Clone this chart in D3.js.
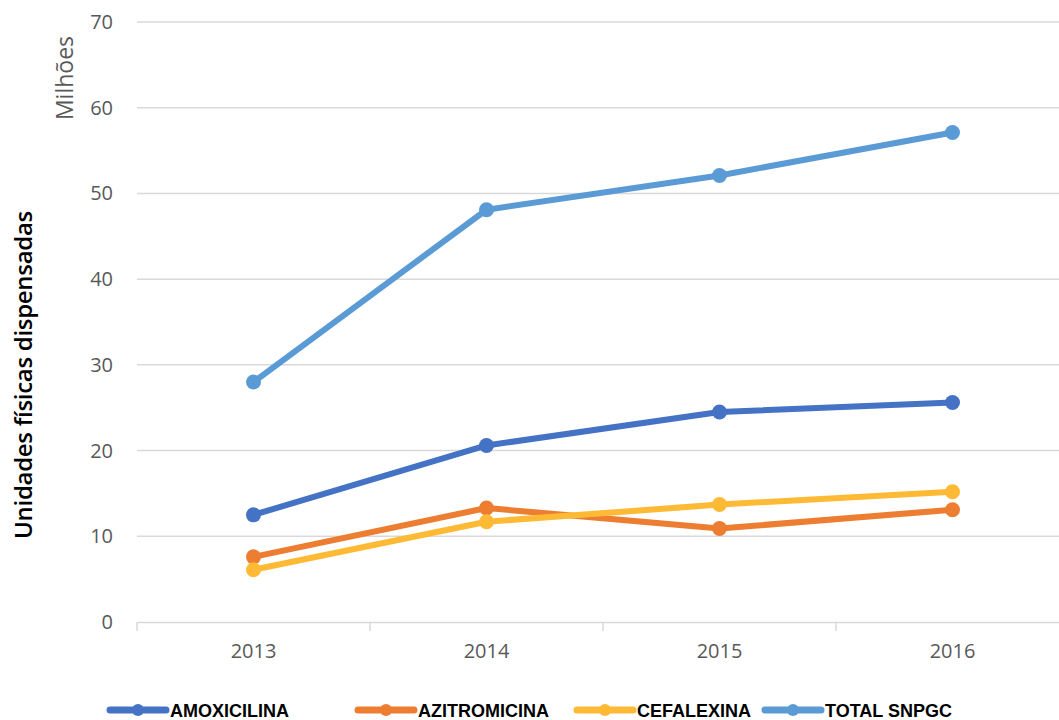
<!DOCTYPE html>
<html>
<head>
<meta charset="utf-8">
<script src="https://cdn.jsdelivr.net/npm/d3@7"></script>
<style>
  body { margin: 0; background: #fff; }
  text { font-family: "Open Sans", "Noto Sans", sans-serif; }
</style>
</head>
<body>
<script>
var years = ["2013", "2014", "2015", "2016"];
var seriesNames = ["AMOXICILINA", "AZITROMICINA", "CEFALEXINA", "TOTAL SNPGC"];
var amoxicilina = [12.5, 20.6, 24.5, 25.6];
var azitromicina = [7.6, 13.3, 10.9, 13.1];
var cefalexina = [6.1, 11.7, 13.7, 15.2];
var totalSnpgc = [28.0, 48.1, 52.1, 57.1];
var yTicks = [0, 10, 20, 30, 40, 50, 60, 70];
var colors = ["#4472C4", "#ED7D31", "#FFBA35", "#5B9BD5"];

var allSeries = [amoxicilina, azitromicina, cefalexina, totalSnpgc];

var svg = d3.select("body").append("svg")
  .attr("width", 1059)
  .attr("height", 720);

var plotLeft = 137, plotRight = 1069, plotTop = 22, plotBottom = 622;

var x = d3.scaleBand().domain(years).range([plotLeft, plotRight]);
var y = d3.scaleLinear().domain([0, 70]).range([plotBottom, plotTop]);

// gridlines
svg.append("g")
  .selectAll("line")
  .data(yTicks.filter(d => d > 0))
  .enter().append("line")
  .attr("x1", plotLeft).attr("x2", 1059)
  .attr("y1", d => y(d)).attr("y2", d => y(d))
  .attr("stroke", "#d9d9d9").attr("stroke-width", 1.5);

// y labels
svg.append("g")
  .selectAll("text")
  .data(yTicks)
  .enter().append("text")
  .attr("x", 113)
  .attr("y", d => y(d) + 7)
  .attr("text-anchor", "end")
  .attr("fill", "#595959")
  .style("font-size", "20px")
  .text(d => d);

// x axis
var xAxis = d3.axisBottom(x).tickSize(0).tickPadding(22);
var gx = svg.append("g")
  .attr("transform", "translate(0," + plotBottom + ")")
  .call(xAxis);
gx.select(".domain").attr("stroke", "#d9d9d9").attr("stroke-width", 1.5);
gx.selectAll("text").attr("fill", "#595959").style("font-size", "20px")
  .style("font-family", "'Open Sans', sans-serif");

// x tick marks at band boundaries
var bounds = years.map(d => x(d)).concat([plotRight]);
svg.append("g")
  .selectAll("line")
  .data(bounds)
  .enter().append("line")
  .attr("x1", d => d).attr("x2", d => d)
  .attr("y1", plotBottom).attr("y2", plotBottom + 9)
  .attr("stroke", "#d9d9d9").attr("stroke-width", 1.5);

var line = d3.line()
  .x((d, i) => x(years[i]) + x.bandwidth() / 2)
  .y(d => y(d));

allSeries.forEach(function(vals, k) {
  var g = svg.append("g");
  g.append("path")
    .attr("d", line(vals))
    .attr("fill", "none")
    .attr("stroke", colors[k])
    .attr("stroke-width", 6)
    .attr("stroke-linejoin", "round");
  g.selectAll("circle")
    .data(vals)
    .enter().append("circle")
    .attr("cx", (d, i) => x(years[i]) + x.bandwidth() / 2)
    .attr("cy", d => y(d))
    .attr("r", 7.5)
    .attr("fill", colors[k]);
});

// axis titles
svg.append("text")
  .attr("transform", "translate(73,78) rotate(-90)")
  .attr("text-anchor", "middle")
  .attr("fill", "#595959")
  .style("font-size", "23px")
  .text("Milhões");

svg.append("text")
  .attr("transform", "translate(32,375) rotate(-90)")
  .attr("text-anchor", "middle")
  .attr("fill", "#000")
  .style("font-size", "24px")
  .style("font-weight", "600")
  .style("letter-spacing", "-0.3px")
  .text("Unidades físicas dispensadas");

// legend
var legendX = [110, 358, 577, 765];
var legend = svg.append("g");
seriesNames.forEach(function(name, k) {
  var lx = legendX[k];
  legend.append("line")
    .attr("x1", lx).attr("x2", lx + 56)
    .attr("y1", 710).attr("y2", 710)
    .attr("stroke", colors[k]).attr("stroke-width", 7)
    .attr("stroke-linecap", "round");
  legend.append("circle")
    .attr("cx", lx + 28).attr("cy", 710).attr("r", 6)
    .attr("fill", colors[k]);
  legend.append("text")
    .attr("x", lx + 60).attr("y", 717)
    .attr("fill", "#000")
    .style("font-family", "'Liberation Sans Narrow', 'Liberation Sans', sans-serif")
    .style("font-size", "18px")
    .style("font-weight", "bold")
    .text(name);
});
</script>
</body>
</html>
